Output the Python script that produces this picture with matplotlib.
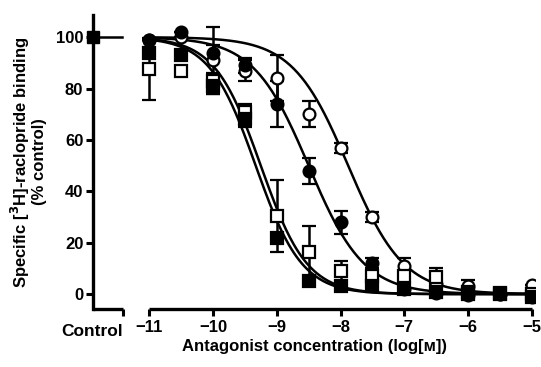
import numpy as np
import matplotlib
matplotlib.use("Agg")
import matplotlib.pyplot as plt

plt.rcParams['font.family'] = ['Liberation Sans', 'DejaVu Sans']
plt.rcParams['font.weight'] = 'bold'

# data
log_conc = [-11, -10.5, -10, -9.5, -9, -8.5, -8, -7.5, -7, -6.5, -6, -5.5, -5]

open_circ     = [99, 100, 91, 87, 84, 70, 57, 30, 11, 4, 3, 0, 3.5]
open_circ_err = [0, 0, 13, 4, 9, 5, 2, 2, 3, 0, 2.5, 0, 0]
fill_circ     = [99, 102, 94, 89, 74, 48, 28, 12, 2, 0.5, -0.5, 0, -1]
fill_circ_err = [0, 0, 3, 3, 9, 5, 4.5, 2, 0, 0, 0, 0, 0]
open_sq       = [87.5, 87, 83, 71, 30.5, 16.5, 9, 7, 7, 6.6, 1, 0, 0]
open_sq_err   = [12, 0, 3, 3, 14, 10, 4, 0, 0, 3.5, 0, 0, 0]
fill_sq       = [94, 93, 81, 68, 22, 5, 3, 3, 2, 1, 0, 0.5, -1]
fill_sq_err   = [0, 0, 3, 3, 0, 0, 0, 0, 0, 0, 0, 0, 0]

control_val = 100

# fitted curve parameters (logIC50, hill slope)
fit_open_circ = (-7.88, 1.0)
fit_fill_circ = (-8.5, 1.0)
fit_open_sq = (-9.25, 1.2)
fit_fill_sq = (-9.33, 1.2)

x_ctrl = -11.88      # position of control on the broken axis
x_ctrl_end = -11.41

fig = plt.figure(figsize=(5.41, 3.67), dpi=100)
ax = fig.add_axes([0.172, 0.158, 0.817, 0.801])

xx = np.linspace(-11, -5, 300)
def curve(p):
    return 100.0 / (1 + 10 ** (p[1] * (xx - p[0])))

for p in [fit_open_circ, fit_fill_circ, fit_open_sq, fit_fill_sq]:
    ax.plot(xx, curve(p), color='black', lw=1.8, zorder=2)

def series(y, err, marker, fill):
    ax.errorbar(log_conc, y, yerr=err, fmt=marker, ms=8.5, mfc=fill, mec='black',
                mew=1.6, ecolor='black', elinewidth=1.8, capsize=5, capthick=1.8,
                zorder=3)

series(open_circ, open_circ_err, 'o', 'white')
series(fill_circ, fill_circ_err, 'o', 'black')
series(open_sq, open_sq_err, 's', 'white')
series(fill_sq, fill_sq_err, 's', 'black')

# control
ax.plot([x_ctrl, x_ctrl_end - 0.02], [control_val, control_val], color='black', lw=1.8,
        zorder=2, clip_on=False)
ax.plot([x_ctrl], [control_val], 's', ms=8.5, color='black', zorder=4, clip_on=False)

ax.set_xlim(x_ctrl, -4.95)
ax.set_ylim(-5.8, 108.6)

# broken x axis
ax.spines['bottom'].set_visible(False)
ax.spines['top'].set_visible(False)
ax.spines['right'].set_visible(False)
ax.spines['left'].set_linewidth(2.4)
y0 = -5.8
ax.plot([x_ctrl, x_ctrl_end], [y0, y0], color='black', lw=2.4, clip_on=False,
        solid_capstyle='butt')
ax.plot([-11, -5], [y0, y0], color='black', lw=2.4, clip_on=False,
        solid_capstyle='butt')

ax.set_xticks([x_ctrl_end] + list(range(-11, -4)))
ax.set_xticklabels([''] + ['\u2212%d' % abs(v) for v in range(-11, -4)])
ax.text(x_ctrl_end, -11.8, 'Control', ha='right', va='top', fontsize=12.5,
        fontweight='bold')
ax.set_yticks([0, 20, 40, 60, 80, 100])
ax.tick_params(axis='both', width=2.2, length=5, labelsize=12, direction='out')
ax.tick_params(axis='x', pad=3)
ax.tick_params(axis='y', pad=2)
for lab in ax.get_xticklabels() + ax.get_yticklabels():
    lab.set_fontweight('bold')

ax.set_xlabel('Antagonist concentration (log[\u1d0d])', fontsize=12,
              fontweight='bold', labelpad=3)
ax.set_ylabel('Specific [$^{3}$H]-raclopride binding\n(% control)', fontsize=12,
              fontweight='bold', labelpad=6, linespacing=1.0)

fig.savefig('out.png', dpi=100)
